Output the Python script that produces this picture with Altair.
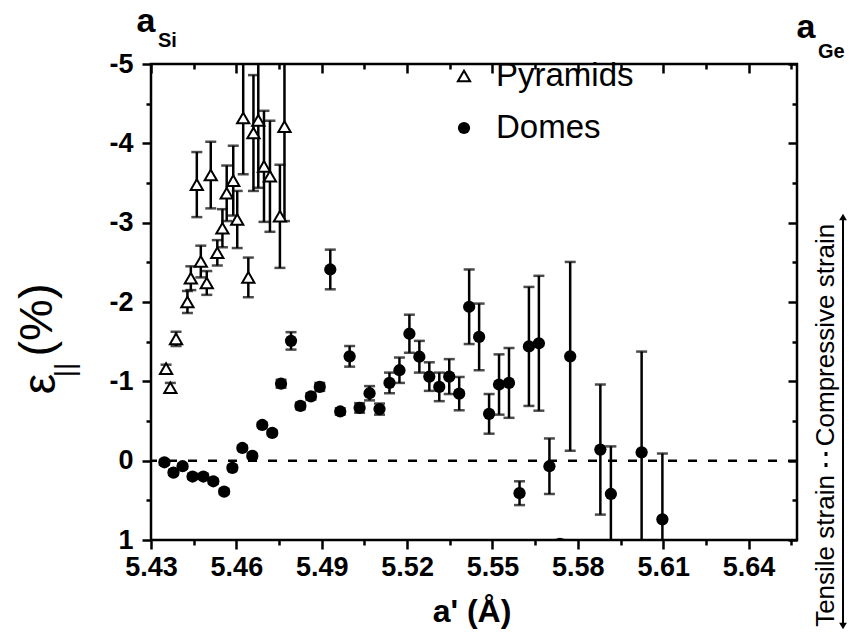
import altair as alt
import pandas as pd

# ---------------- data ----------------
pyr_x = [5.4353, 5.4368, 5.4388, 5.4428, 5.4440, 5.4461, 5.4475, 5.4496, 5.4510, 5.4533,
         5.4551, 5.4566, 5.4589, 5.4603, 5.4624, 5.4642, 5.4660, 5.4677, 5.4697, 5.4718,
         5.4753, 5.4769]
pyr_y = [-1.16, -0.92, -1.535, -2.00, -2.30, -3.48, -2.51, -2.24, -3.60, -2.62,
         -2.93, -3.37, -3.53, -3.04, -4.32, -2.31, -4.13, -4.29, -3.71, -3.585,
         -3.08, -4.21]
pyr_err = [0.05, 0.06, 0.09, 0.14, 0.15, 0.41, 0.20, 0.15, 0.42, 0.16,
           0.24, 0.35, 0.44, 0.36, 0.71, 0.25, 0.73, 0.85, 0.70, 0.70,
           0.65, 1.19]

dome_x = [5.4347, 5.4379, 5.4411, 5.4446, 5.4484, 5.4519, 5.4557, 5.4586, 5.4621, 5.4656,
          5.4691, 5.4726, 5.4757, 5.4792, 5.4825, 5.4862, 5.4893, 5.4930, 5.4965, 5.4998,
          5.5033, 5.5068, 5.5103, 5.5138, 5.5173, 5.5208, 5.5243, 5.5278, 5.5313, 5.5348,
          5.5383, 5.5418, 5.5453, 5.5488, 5.5523, 5.5558, 5.5595, 5.5628, 5.5663, 5.5700,
          5.5737, 5.5773, 5.5879, 5.5916, 5.6024, 5.6097]
dome_y = [0.02, 0.15, 0.07, 0.20, 0.20, 0.26, 0.39, 0.09, -0.16, -0.06,
          -0.45, -0.35, -0.97, -1.51, -0.69, -0.81, -0.93, -2.41, -0.62, -1.315,
          -0.665, -0.85, -0.65, -0.98, -1.14, -1.60, -1.31, -1.06, -0.93, -1.06,
          -0.845, -1.94, -1.56, -0.59, -0.96, -0.98, 0.41, -1.44, -1.48, 0.07,
          1.05, -1.315, -0.14, 0.42, -0.105, 0.74]
dome_err = [0.03, 0.03, 0.03, 0.03, 0.03, 0.03, 0.03, 0.03, 0.03, 0.03,
            0.03, 0.03, 0.05, 0.11, 0.04, 0.04, 0.05, 0.25, 0.04, 0.13,
            0.06, 0.09, 0.07, 0.13, 0.16, 0.24, 0.20, 0.18, 0.18, 0.22,
            0.21, 0.47, 0.42, 0.25, 0.38, 0.44, 0.15, 0.75, 0.85, 0.35,
            0.05, 1.19, 0.82, 0.60, 1.27, 0.83]

x_major = [5.43, 5.46, 5.49, 5.52, 5.55, 5.58, 5.61, 5.64]
x_minor = [5.445, 5.475, 5.505, 5.535, 5.565, 5.595, 5.625, 5.655]
y_major = [-5, -4, -3, -2, -1, 0, 1]
y_minor = [-4.5, -3.5, -2.5, -1.5, -0.5, 0.5]

# ---------------- layout ----------------
W, H = 646, 476
PAD = {"left": 151, "top": 64, "right": 52, "bottom": 95}
FONT = "Liberation Sans"

xscale = alt.Scale(domain=[5.43, 5.657], nice=False, zero=False)
yscale = alt.Scale(domain=[-5, 1], reverse=True, nice=False, zero=False)


def frame(xs, ys, err):
    return pd.DataFrame({
        "x": xs, "y": ys,
        "lo": [a - e for a, e in zip(ys, err)],
        "hi": [a + e for a, e in zip(ys, err)],
    })


pyr = frame(pyr_x, pyr_y, pyr_err)
dome = frame(dome_x, dome_y, dome_err)


def caps(df):
    return pd.DataFrame({"x": list(df["x"]) * 2, "c": list(df["lo"]) + list(df["hi"])})


X = lambda f: alt.X(f, type="quantitative", scale=xscale, axis=None)
Y = lambda f: alt.Y(f, type="quantitative", scale=yscale, axis=None)


def errlayers(df):
    bars = alt.Chart(df).mark_rule(color="black", strokeWidth=2.5, clip=True).encode(
        x=X("x"), y=Y("lo"), y2="hi")
    cp = alt.Chart(caps(df)).mark_tick(orient="horizontal", size=11, thickness=2.5,
                                        color="black", clip=True).encode(x=X("x"), y=Y("c"))
    return [bars, cp]


zero = alt.Chart(pd.DataFrame({"z": [0]})).mark_rule(
    color="black", strokeWidth=2.5, strokeDash=[9, 11]).encode(y=Y("z"))

pyr_pts = alt.Chart(pyr).mark_point(shape="triangle-up", size=150, filled=True, fill="white",
                                    stroke="black", strokeWidth=2, opacity=1, clip=True).encode(
    x=X("x"), y=Y("y"))
dome_pts = alt.Chart(dome).mark_circle(size=150, color="black", opacity=1, clip=True).encode(
    x=X("x"), y=Y("y"))

# ---------------- axes (tick layers) ----------------
axdf = pd.DataFrame({"x": [5.5], "y": [0.0]})


def axis_layer(xvals, yvals, xsize, ysize, xlabels=False, ylabels=False, xoff=0, yoff=0):
    xa = alt.Axis(orient="bottom", values=xvals, tickSize=xsize, tickWidth=2.5, tickColor="black",
                  domain=False, grid=False, labels=xlabels, title=None, offset=xoff,
                  format=".2f", labelFont=FONT, labelFontSize=27, labelFontWeight="bold",
                  labelColor="black", labelPadding=5, labelFlush=False, labelOverlap=False)
    ya = alt.Axis(orient="left", values=yvals, tickSize=ysize, tickWidth=2.5, tickColor="black",
                  domain=False, grid=False, labels=ylabels, title=None, offset=yoff,
                  labelExpr="'' + datum.value", labelFont=FONT, labelFontSize=27,
                  labelFontWeight="bold", labelColor="black", labelPadding=9,
                  labelFlush=False, labelOverlap=False)
    return alt.Chart(axdf).mark_point(opacity=0).encode(
        x=alt.X("x:Q", scale=xscale, axis=xa), y=alt.Y("y:Q", scale=yscale, axis=ya))


ax1 = axis_layer(x_major, y_major, 9, 9, True, True)
ax2 = axis_layer(x_minor, y_minor, 5, 5)
ax3 = axis_layer(x_major, y_major, 9, 9, xoff=-H, yoff=-W)
ax4 = axis_layer(x_minor, y_minor, 5, 5, xoff=-H, yoff=-W)

# ---------------- annotations ----------------
dummy = pd.DataFrame({"d": [0]})


def txt(s, x, y, size, weight="normal", align="center", baseline="middle", angle=0):
    return alt.Chart(dummy).mark_text(text=s, font=FONT, fontSize=size, fontWeight=weight,
                                      align=align, baseline=baseline, angle=angle,
                                      color="black").encode(x=alt.value(x), y=alt.value(y))


annots = [
    # legend
    alt.Chart(dummy).mark_point(shape="triangle-up", size=150, filled=True, fill="white",
                                stroke="black", strokeWidth=2, opacity=1).encode(
        x=alt.value(313), y=alt.value(12)),
    txt("Pyramids", 345, 12, 33, align="left"),
    alt.Chart(dummy).mark_circle(size=150, color="black", opacity=1).encode(
        x=alt.value(313), y=alt.value(64)),
    txt("Domes", 345, 64, 33, align="left"),
    # x title
    txt("a' (Å)", 321, 558, 32, weight="bold", baseline="alphabetic"),
    # y title
    txt("ε", -110, 320, 46, angle=270),
    txt("||", -85, 306, 28, angle=270),
    txt("(%)", -113, 256, 47, angle=270),
    # a_Si / a_Ge
    txt("a", -5, -32, 34, weight="bold", baseline="alphabetic"),
    txt("Si", 7, -17, 20, weight="bold", align="left", baseline="alphabetic"),
    txt("a", 655, -26, 34, weight="bold", baseline="alphabetic"),
    txt("Ge", 667, -6, 20, weight="bold", align="left", baseline="alphabetic"),
    # strain side labels
    txt("Compressive strain", 675, 271, 26, angle=270),
    txt("Tensile strain", 675, 487, 26, angle=270),
    alt.Chart(dummy).mark_rule(color="black", strokeWidth=3).encode(
        x=alt.value(675), y=alt.value(388), y2=alt.value(392)),
    alt.Chart(dummy).mark_rule(color="black", strokeWidth=3).encode(
        x=alt.value(675), y=alt.value(399), y2=alt.value(403)),
    # double arrow
    alt.Chart(dummy).mark_rule(color="black", strokeWidth=2).encode(
        x=alt.value(692), y=alt.value(152), y2=alt.value(563)),
    alt.Chart(dummy).mark_point(shape="triangle-up", size=60, filled=True, color="black",
                                opacity=1).encode(x=alt.value(692), y=alt.value(153)),
    alt.Chart(dummy).mark_point(shape="triangle-down", size=60, filled=True, color="black",
                                opacity=1).encode(x=alt.value(692), y=alt.value(562)),
]

layers = [ax1, ax2, ax3, ax4, zero] + errlayers(pyr) + errlayers(dome) + [pyr_pts, dome_pts] + annots

chart = alt.layer(*layers).resolve_axis(x="independent", y="independent").properties(
    width=W, height=H, padding=PAD, autosize=alt.AutoSizeParams(type="none"),
    background="white"
).configure_view(stroke="black", strokeWidth=2.5)

chart.save("out.html", embed_options={"renderer": "svg", "actions": False})
